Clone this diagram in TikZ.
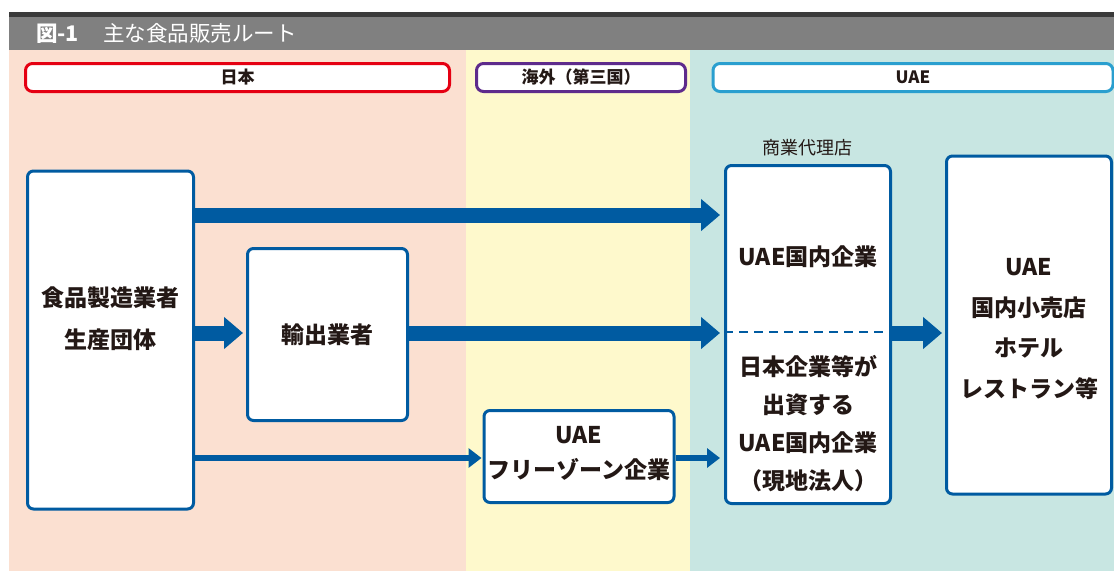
\documentclass[tikz,border=0pt]{standalone}
\usepackage{fontspec}
\newfontfamily\jp{Noto Sans CJK JP}
\usetikzlibrary{arrows.meta}
\definecolor{pinkbg}{HTML}{FBE0D1}
\definecolor{yellowbg}{HTML}{FEF9CC}
\definecolor{tealbg}{HTML}{C8E6E2}
\definecolor{mainblue}{HTML}{005BA1}
\definecolor{hred}{HTML}{E50012}
\definecolor{hpurple}{HTML}{5E2B8C}
\definecolor{hcyan}{HTML}{2A9FCF}
\definecolor{txt}{HTML}{231815}
\definecolor{bardark}{HTML}{3A3A3A}
\definecolor{bargray}{HTML}{808080}
\tikzset{
  box/.style={draw=mainblue, line width=3pt, fill=white, rounded corners=6pt, inner sep=0pt},
  hdr/.style={line width=3pt, fill=white, rounded corners=7pt, inner sep=0pt, minimum height=28pt, text=txt, font=\jp\bfseries\fontsize{17}{20}\selectfont},
  lbl/.style={text=txt, align=center, font=\jp\bfseries\fontsize{23}{40}\selectfont, inner sep=0pt},
  bigarrow/.style={draw=mainblue, line width=15pt, -{Triangle[width=31pt,length=19pt]}},
  thinarrow/.style={draw=mainblue, line width=6.5pt, -{Triangle[width=19pt,length=13pt]}},
}
\begin{document}
\begin{tikzpicture}[x=1pt,y=-1pt]
\useasboundingbox (0,0) rectangle (1114,571);
% backgrounds
\fill[white] (0,0) rectangle (1114,571);
\fill[pinkbg] (9,50) rectangle (466,571);
\fill[yellowbg] (466,50) rectangle (690,571);
\fill[tealbg] (690,50) rectangle (1114,571);
\fill[bardark] (9,12) rectangle (1114,17);
\fill[bargray] (9,17) rectangle (1114,50);
\node[anchor=west, text=white, inner sep=0pt, font=\jp\fontsize{21.5}{24}\selectfont] (title) at (36,33) {{\bfseries 図-1}\hspace{24pt}主な食品販売ルート};
% headers
\node[hdr, draw=hred, minimum width=424pt] (hjp) at (237.5,77.5) {日本};
\node[hdr, draw=hpurple, minimum width=209pt] (hov) at (581,77.5) {海外（第三国）};
\node[hdr, draw=hcyan, minimum width=400pt] (huae) at (913,77.5) {UAE};
% boxes
\node[box, minimum width=166pt, minimum height=338pt] (food) at (110.5,340) {};
\node[lbl, font=\jp\bfseries\fontsize{23}{42}\selectfont] (foodtxt) at (110.5,319) {食品製造業者\\生産団体};
\node[box, minimum width=160pt, minimum height=172pt] (exp) at (327.5,334.5) {};
\node[lbl] (exptxt) at (327.5,335) {輸出業者};
\node[box, minimum width=190pt, minimum height=92pt] (fz) at (579,456.5) {};
\node[lbl, font=\jp\bfseries\fontsize{23}{35}\selectfont] (fztxt) at (579,454) {UAE\\フリーゾーン企業};
\node[box, minimum width=165pt, minimum height=338pt] (dom) at (808,334.5) {};
\node[text=txt, inner sep=0pt, font=\jp\fontsize{18}{20}\selectfont] (agent) at (807,148) {商業代理店};
\node[lbl] (domtxt) at (808,257) {UAE国内企業};
\node[lbl, font=\jp\bfseries\fontsize{23}{38}\selectfont] (jvtxt) at (808,424) {日本企業等が\\出資する\\UAE国内企業\\（現地法人）};
\draw[mainblue, line width=2pt, dash pattern=on 9pt off 6pt] (dom.west |- 0,332) coordinate (dl) -- (dom.east |- 0,332) coordinate (dr);
\node[box, minimum width=165pt, minimum height=338pt] (ret) at (1029,325) {};
\node[lbl, font=\jp\bfseries\fontsize{23}{40.7}\selectfont] (rettxt) at (1029,329) {UAE\\国内小売店\\ホテル\\レストラン等};
% arrows
\draw[bigarrow, shorten >=4pt] (food.east |- 0,215) -- (dom.west |- 0,215);
\draw[bigarrow, shorten >=3pt] (food.east |- 0,333) -- (exp.west |- 0,333);
\draw[bigarrow, shorten >=4pt] (exp.east |- 0,333) -- (dom.west |- 0,333);
\draw[bigarrow, shorten >=3pt] (dom.east |- 0,333) -- (ret.west |- 0,333);
\draw[thinarrow, shorten >=1pt] (food.east |- 0,458) -- (fz.west |- 0,458);
\draw[thinarrow, shorten >=4pt] (fz.east |- 0,458) -- (dom.west |- 0,458);
\end{tikzpicture}
\end{document}
